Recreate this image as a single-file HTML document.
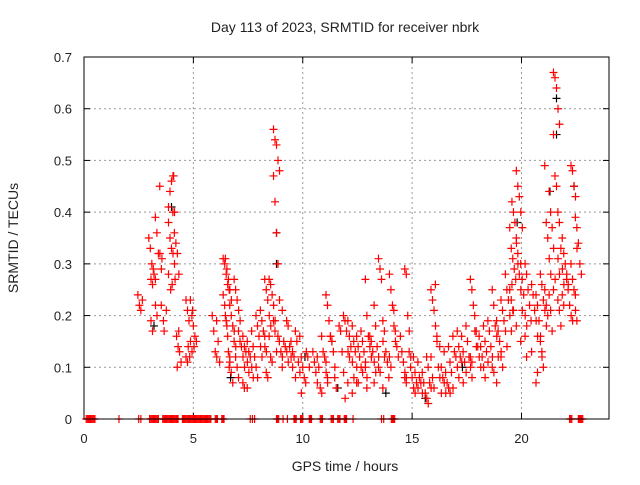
<!DOCTYPE html>
<html><head><meta charset="utf-8"><style>
body{margin:0;background:#fff;}
svg text{font-family:"Liberation Sans",sans-serif;fill:#222;}
</style></head><body>
<svg id="chart" width="640" height="480" xmlns="http://www.w3.org/2000/svg">
<rect width="640" height="480" fill="#fff"/>
<text x="345" y="32" font-size="14" text-anchor="middle">Day 113 of 2023, SRMTID for receiver nbrk</text>
<text transform="translate(18,238) rotate(-90)" font-size="14" text-anchor="middle">SRMTID / TECUs</text>
<text x="345" y="471" font-size="14" text-anchor="middle">GPS time / hours</text>
<g id="grid"></g>
<g id="ticks"></g>
<g id="marks"></g>
<rect x="84" y="57" width="525" height="362" fill="none" stroke="#000" stroke-width="1"/>
</svg>
<script>
const xTicks=[0,5,10,15,20];
const yTicks=[0,0.1,0.2,0.3,0.4,0.5,0.6,0.7];
const yTickLabels=["0","0.1","0.2","0.3","0.4","0.5","0.6","0.7"];
const groupTimes=[2.6,3.1,3.2,3.4,3.6,3.7,3.8,3.9,4.0,4.1,4.2,4.3,4.4,4.8,4.9,5.0,5.1,6.0,6.2,6.5,6.6,6.8,7.0,7.2,7.4,7.6,7.8,8.0,8.2,8.4,8.6,8.8,9.0,9.2,9.4,9.6,9.8,10.0,10.3,10.6,10.8,11.0,11.2,11.4,11.6,11.8,12.0,12.2,12.4,12.6,12.8,13.0,13.2,13.4,13.6,13.8,14.1,14.3,14.6,14.8,15.0,15.2,15.4,15.6,15.8,16.0,16.2,16.4,16.6,16.8,17.0,17.2,17.4,17.6,17.8,18.0,18.2,18.4,18.6,18.8,19.0,19.2,19.4,19.6,19.7,19.9,20.1,20.3,20.6,20.8,21.0,21.2,21.4,21.6,21.8,22.0,22.2,22.4,22.6];
const groupValues=[
[.24,.22,.21,.23],[.35,.33,.30,.29],[.27,.26,.28,.22,.20,.19,.17],[.39,.36,.32,.32,.29,.27],[.45,.22],[.31,.19],[.17],[.21],
[.41,.44,.46,.47,.40,.38,.35,.33,.32,.30,.28],[.25,.26,.47],[.40,.36,.34,.32,.28],[.27,.16,.14,.13,.11],[.10,.17],
[.23,.21,.19,.15,.13,.12,.11],[.14,.12],[.23,.20,.18,.16,.15],[.21,.14],[.20,.17,.13,.12],[.19,.15,.11],
[.31,.30,.28,.26,.25,.24,.22,.19,.16,.10],[.31,.29,.27,.25,.23,.20,.18,.13,.11],[.22,.20,.18,.17,.14,.12,.09,.07],
[.27,.25,.23,.21,.19,.15,.12,.10],[.17,.15,.14,.12,.10,.08],[.16,.14,.13,.11,.09,.07,.06],[.15,.13,.12,.10,.08,.06],
[.17,.14,.12,.10,.08],[.20,.18,.16,.14,.12],[.21,.19,.17,.14,.13],[.27,.25,.23,.20,.18,.16,.09,.08],
[.27,.26,.24,.22,.19,.16,.12,.11],[.56,.54,.53,.50,.48,.47,.42,.36,.30,.23,.19,.17,.13],[.16,.15,.13,.12],
[.21,.15,.14,.13,.11,.10],[.19,.18,.14,.12,.10],[.15,.13,.12,.08],[.17,.15,.11,.09,.05],[.16,.12,.10,.08,.07],
[.13,.12,.10],[.13,.11,.09,.07],[.12,.10,.06,.05],[.16,.13,.12,.09,.07],[.24,.22,.19,.16,.15,.11,.08],
[.16,.15,.13,.10],[.08,.06],[.18,.17,.13,.09,.04],[.20,.19,.17,.13,.12],[.19,.16,.14,.11,.08,.07],
[.18,.15,.13,.10,.07,.05],[.16,.14,.12,.10,.09,.07],[.17,.15,.13,.11,.08],[.27,.20,.16,.14,.12,.10,.06],
[.16,.15,.13,.11,.09],[.22,.18,.14,.12,.09,.07],[.31,.29,.27,.15,.12,.10],[.19,.17,.13,.11,.08,.06],
[.28,.25,.22,.18,.15,.12,.10],[.21,.17,.14,.12],[.16,.13,.11,.09,.08],[.29,.28,.20,.17,.12,.08,.07],
[.13,.10,.08,.06,.05],[.12,.09,.07,.06],[.11,.08,.07,.05],[.09,.07,.05,.04,.03],[.12,.10,.07,.06],
[.25,.23,.21,.18,.15,.12,.08,.06],[.26,.16,.10,.08,.05],[.14,.10,.08,.07,.05],[.13,.09,.07,.06,.05],
[.14,.11,.09,.06],[.16,.13,.12,.10,.08],[.17,.14,.12,.11,.07],[.16,.13,.11,.09],[.18,.15,.12,.10,.08],
[.27,.25,.22,.17,.14,.12,.11],[.20,.17,.14,.12,.10],[.16,.14,.12,.10,.08],[.18,.15,.13,.11],
[.19,.17,.14,.12,.09],[.25,.22,.18,.16,.12,.10],[.19,.17,.15,.13,.10,.07],[.23,.21,.19,.17,.14,.12],
[.28,.25,.23,.20,.17],[.37,.33,.31,.29,.27,.25,.23,.21],[.42,.40,.38,.34,.30,.26,.21],
[.48,.45,.43,.40,.37,.35,.32,.28,.25,.21,.18],[.30,.27,.24,.20,.18,.15],[.30,.28,.25,.22,.19,.16,.12],
[.26,.24,.21,.19,.16,.13],[.24,.22,.19,.16,.12,.07,.09],[.28,.26,.23,.21,.18,.15,.13,.10],
[.49,.38,.35,.31,.28,.25,.22,.20],[.44,.40,.37,.33,.27,.24,.21,.17],[.67,.66,.64,.60,.57,.55,.47,.45,.31,.28,.25],
[.40,.38,.33,.29,.26,.23,.21,.18],[.35,.32,.30,.28,.26,.24,.22],[.27,.25,.22,.20,.19],
[.49,.48,.45,.43,.33,.30,.27,.25,.21],[.39,.37,.34,.30,.28,.24,.19]];
const blackTimes=[3.2,4.0,6.7,8.8,8.8,15.6,19.8,21.3,21.6,21.6,22.4,13.8,11.6,10.1,17.3];
const blackValues=[.18,.41,.08,.36,.30,.04,.38,.44,.62,.55,.45,.05,.06,.12,.1];
const zeroTimes=[0.1,0.15,0.2,0.25,0.3,0.35,0.4,0.45,0.5,1.6,2.5,2.6,3.0,3.05,3.1,3.15,3.2,3.25,3.3,3.35,3.4,3.6,3.65,3.7,3.75,3.8,3.85,3.9,3.95,4.0,4.05,4.1,4.15,4.2,4.25,4.3,4.5,4.55,4.6,4.65,4.7,4.75,4.8,4.85,4.9,4.95,5.0,5.05,5.1,5.15,5.2,5.25,5.3,5.35,5.4,5.45,5.5,5.55,5.6,5.65,5.7,5.75,5.8,6.0,6.05,6.1,6.3,6.35,6.4,7.6,7.7,7.8,8.8,8.85,8.9,9.1,9.3,9.6,9.65,9.7,9.9,9.95,10.0,10.3,10.35,10.4,10.8,10.85,10.9,11.3,11.35,11.4,11.6,11.65,11.7,11.9,11.95,12.0,12.3,13.6,13.7,14.05,14.1,14.15,14.2,22.2,22.25,22.3,22.6,22.65,22.7,22.75,22.8];

const NS="http://www.w3.org/2000/svg";
const X0=84,X1=609,Y0=419,Y1=57,XMAX=24,YMAX=0.7;
const xs=t=>X0+t/XMAX*(X1-X0);
const ys=v=>Y0-v/YMAX*(Y0-Y1);
const grid=document.getElementById('grid'),ticks=document.getElementById('ticks'),marks=document.getElementById('marks');
function line(p,x1,y1,x2,y2,st,dash){const l=document.createElementNS(NS,'line');l.setAttribute('x1',x1);l.setAttribute('y1',y1);l.setAttribute('x2',x2);l.setAttribute('y2',y2);l.setAttribute('stroke',st);if(dash)l.setAttribute('stroke-dasharray',dash);p.appendChild(l);return l;}
function txt(p,x,y,s,anchor){const t=document.createElementNS(NS,'text');t.setAttribute('x',x);t.setAttribute('y',y);t.setAttribute('font-size','13');t.setAttribute('text-anchor',anchor);t.textContent=s;p.appendChild(t);return t;}
xTicks.forEach(v=>{const x=xs(v);
 if(v>0){const g=line(grid,x,Y0,x,Y1,'#999','2,3');}
 line(ticks,x,Y0,x,Y0-6,'#000');line(ticks,x,Y1,x,Y1+6,'#000');
 const t=txt(ticks,x,443,String(v),'middle');
 
 });
yTicks.forEach((v,i)=>{const y=ys(v);
 if(v>0&&v<YMAX){const g=line(grid,X0,y,X1,y,'#999','2,3');}
 line(ticks,X0,y,X0+6,y,'#000');line(ticks,X1,y,X1-6,y,'#000');
 const t=txt(ticks,72,y+5,yTickLabels[i],'end');
 
 });
function plus(x,y,c,name){const p=document.createElementNS(NS,'path');p.setAttribute('d',`M${x-4},${y}h8M${x},${y-4}v8`);p.setAttribute('stroke',c);p.setAttribute('stroke-width','1.2');
 
 
 marks.appendChild(p);}
blackTimes.forEach((t,i)=>plus(xs(t),ys(blackValues[i]),'#000','black-point'));
groupTimes.forEach((t,g)=>{groupValues[g].forEach((v,i)=>plus(xs(t)+((i%5)-2)*1.5,ys(v),'#f00','red-point'));});
zeroTimes.forEach(t=>plus(xs(t),ys(0),'#f00','zero-point'));
</script>
</body></html>
